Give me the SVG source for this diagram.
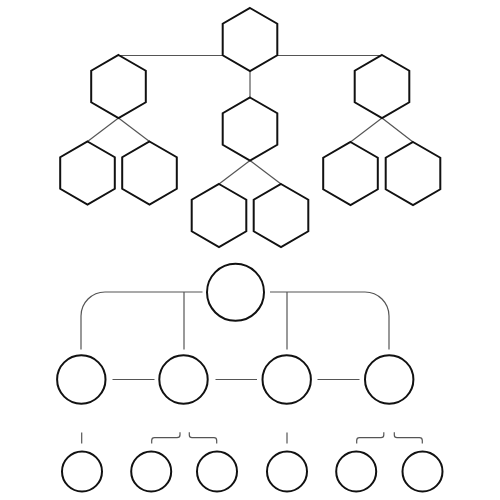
<svg xmlns="http://www.w3.org/2000/svg" xmlns:xlink="http://www.w3.org/1999/xlink" width="500" height="500" viewBox="0 0 500 500">
<style>
.n{fill:#fff;stroke:#111;stroke-width:2;stroke-linejoin:miter}
.c{fill:none;stroke:#555;stroke-width:1.2;stroke-linecap:butt}
</style>
<defs>
<polygon id="hex" points="0,-31.5 27.3,-15.75 27.3,15.75 0,31.5 -27.3,15.75 -27.3,-15.75"/>
</defs>
<rect width="500" height="500" fill="#fff"/>
<g id="connectors" class="c">
<line x1="118.5" y1="55.5" x2="223" y2="55.5"/>
<line x1="277" y1="55.5" x2="382" y2="55.5"/>
<line x1="250" y1="71" x2="250" y2="97.5"/>
<line x1="118.5" y1="118" x2="87.5" y2="141.5"/>
<line x1="118.5" y1="118" x2="149.5" y2="141.5"/>
<line x1="382" y1="118" x2="350.5" y2="142"/>
<line x1="382" y1="118" x2="413" y2="142"/>
<line x1="250" y1="160.5" x2="219" y2="184"/>
<line x1="250" y1="160.5" x2="281" y2="184"/>
<path d="M202.5,292 H105 A24,24 0 0 0 81,316 V349.5"/>
<path d="M270,292 H365 A24,24 0 0 1 389,316 V349.5"/>
<line x1="184" y1="292" x2="184" y2="349.5"/>
<line x1="287" y1="292" x2="287" y2="349.5"/>
<line x1="112.5" y1="379.5" x2="154.5" y2="379.5"/>
<line x1="215.5" y1="379.5" x2="257" y2="379.5"/>
<line x1="317.5" y1="379.5" x2="359.5" y2="379.5"/>
<line x1="81.7" y1="432.5" x2="81.7" y2="443.5"/>
<line x1="287" y1="432.5" x2="287" y2="443.5"/>
<path d="M151.7,443.5 V440.5 Q151.7,437.7 154.5,437.7 H177 Q180,437.7 180,435 V432.3"/>
<path d="M189.3,432.3 V435 Q189.3,437.7 192,437.7 H214 Q216.7,437.7 216.7,440.5 V443.5"/>
<path d="M356.7,443.5 V440.5 Q356.7,437.7 359.5,437.7 H381 Q383.8,437.7 383.8,435 V432.3"/>
<path d="M394.3,432.3 V435 Q394.3,437.7 397,437.7 H419.5 Q422.3,437.7 422.3,440.5 V443.5"/>
</g>
<g id="hex-top"><use xlink:href="#hex" class="n" x="250" y="39.5"/></g>
<g id="hex-left"><use xlink:href="#hex" class="n" x="118.5" y="86.5"/></g>
<g id="hex-right"><use xlink:href="#hex" class="n" x="382" y="86.5"/></g>
<g id="hex-mid"><use xlink:href="#hex" class="n" x="250" y="129"/></g>
<g id="hex-l1"><use xlink:href="#hex" class="n" x="87.5" y="173"/></g>
<g id="hex-l2"><use xlink:href="#hex" class="n" x="149.5" y="173"/></g>
<g id="hex-r1"><use xlink:href="#hex" class="n" x="350.5" y="173.5"/></g>
<g id="hex-r2"><use xlink:href="#hex" class="n" x="413" y="173.5"/></g>
<g id="hex-m1"><use xlink:href="#hex" class="n" x="219" y="215.5"/></g>
<g id="hex-m2"><use xlink:href="#hex" class="n" x="281" y="215.5"/></g>
<g id="circle-top"><circle class="n" cx="235.5" cy="292.3" r="28.5"/></g>
<g id="circle-a"><circle class="n" cx="81.3" cy="379.5" r="24.2"/></g>
<g id="circle-b"><circle class="n" cx="183.5" cy="379.5" r="24.2"/></g>
<g id="circle-c"><circle class="n" cx="286.7" cy="379.5" r="24.2"/></g>
<g id="circle-d"><circle class="n" cx="389.2" cy="379.5" r="24.2"/></g>
<g id="circle-1"><circle class="n" cx="82" cy="471.5" r="20"/></g>
<g id="circle-2"><circle class="n" cx="151.2" cy="471.5" r="20"/></g>
<g id="circle-3"><circle class="n" cx="217" cy="471.5" r="20"/></g>
<g id="circle-4"><circle class="n" cx="287" cy="471.5" r="20"/></g>
<g id="circle-5"><circle class="n" cx="356.2" cy="471.5" r="20"/></g>
<g id="circle-6"><circle class="n" cx="422.5" cy="471.5" r="20"/></g>
</svg>
